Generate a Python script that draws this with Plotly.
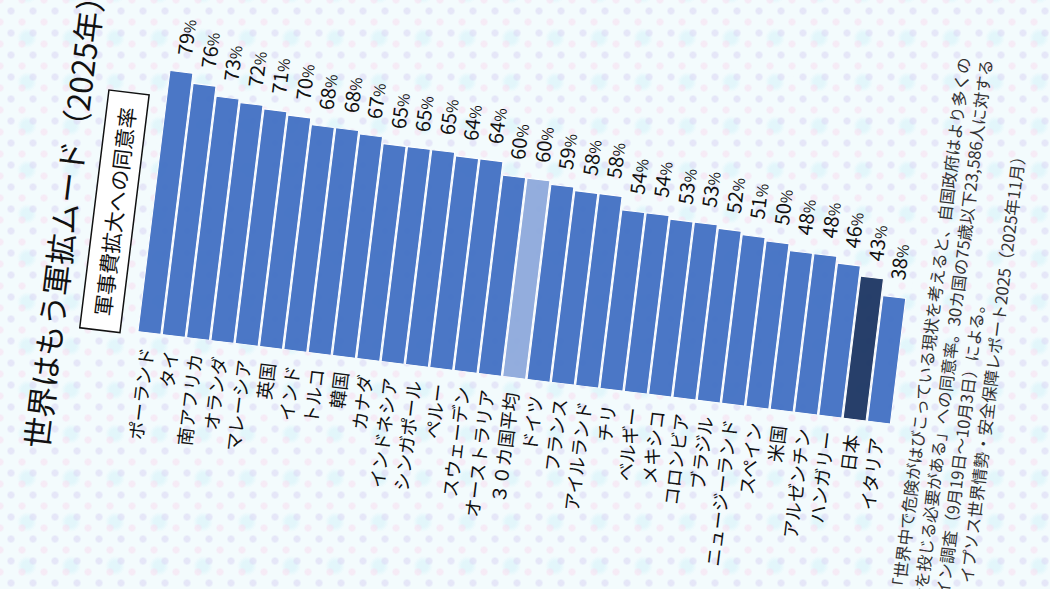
import plotly.graph_objects as go

# ---- data ----
countries = ["ポーランド", "タイ", "南アフリカ", "オランダ", "マレーシア", "英国", "インド",
             "トルコ", "韓国", "カナダ", "インドネシア", "シンガポール", "ペルー", "スウェーデン",
             "オーストラリア", "３０カ国平均", "ドイツ", "フランス", "アイルランド", "チリ",
             "ベルギー", "メキシコ", "コロンビア", "ブラジル", "ニュージーランド", "スペイン",
             "米国", "アルゼンチン", "ハンガリー", "日本", "イタリア"]
values = [79, 76, 73, 72, 71, 70, 68, 68, 67, 65, 65, 65, 64, 64, 60, 60, 59, 58, 58,
          54, 54, 53, 53, 52, 51, 50, 48, 48, 46, 43, 38]
value_labels = [f"{v}<span style='font-size:15px'>%</span>" for v in values]

title_text = "世界はもう軍拡ムード（2025年）"
subtitle_text = "軍事費拡大への同意率"
note_lines = [
    "注：「世界中で危険がはびこっている現状を考えると、自国政府はより多くの",
    "資金を投じる必要がある」への同意率。30カ国の75歳以下23,586人に対する",
    "オンライン調査（9月19日～10月3日）による。",
    "出典：イプソス世界情勢・安全保障レポート2025（2025年11月）",
]

# ---- styles ----
FONT = "Noto Sans CJK JP, Noto Sans, sans-serif"
C_MAIN = "#4472C4"
C_AVG = "#8FAADC"
C_JAPAN = "#1F3864"
colors = [C_AVG if c == "３０カ国平均" else (C_JAPAN if c == "日本" else C_MAIN) for c in countries]

L, T, R, B = 220, 140, 130, 130
PLOT_W = 333   # 0..100 %
PLOT_H = 768   # 31 bars
W = L + PLOT_W + R
H = T + PLOT_H + B

fig = go.Figure(go.Bar(
    x=values, y=countries, orientation="h",
    marker=dict(color=colors, line=dict(color="white", width=1)),
    opacity=0.96,
    hoverinfo="skip",
))

annotations = []
for c, v, lab in zip(countries, values, value_labels):
    annotations.append(dict(
        x=v, y=c, xref="x", yref="y", text=lab, showarrow=False,
        xanchor="left", yanchor="middle", xshift=15,
        font=dict(family=FONT, size=20, color="#111111"),
    ))

annotations.append(dict(
    x=0, y=1, xref="paper", yref="paper", text=title_text, showarrow=False,
    xanchor="left", yanchor="middle", xshift=-130, yshift=84,
    font=dict(family=FONT, size=31, color="#111111"),
))
annotations.append(dict(
    x=0, y=1, xref="paper", yref="paper", text=subtitle_text, showarrow=False,
    xanchor="left", yanchor="bottom", xshift=-4, yshift=12,
    width=234, height=35, align="center", valign="middle",
    bgcolor="white", bordercolor="#111111", borderwidth=1.5, borderpad=2,
    font=dict(family=FONT, size=21, color="#111111"),
))
note_x = [-195, -194, -216, -200]
note_v = [791, 813, 835, 857]
for line, ux, vv in zip(note_lines, note_x, note_v):
    annotations.append(dict(
        x=0, y=1, xref="paper", yref="paper", text=line, showarrow=False,
        xanchor="left", yanchor="middle", xshift=ux, yshift=-vv,
        font=dict(family=FONT, size=16.5, color="#333333"),
    ))

fig.update_layout(
    width=W, height=H, autosize=False,
    margin=dict(l=L, r=R, t=T, b=B, pad=0),
    paper_bgcolor="rgba(0,0,0,0)", plot_bgcolor="rgba(0,0,0,0)",
    bargap=0.06, showlegend=False,
    font=dict(family=FONT, color="#111111"),
    xaxis=dict(range=[0, 100], visible=False, fixedrange=True),
    yaxis=dict(type="category", autorange="reversed", ticks="", showline=False,
               showgrid=False, zeroline=False, ticklabelstandoff=14,
               tickfont=dict(family=FONT, size=18.5, color="#111111"), fixedrange=True),
    annotations=annotations,
)

post_js = """
var gd = document.getElementById('{plot_id}');
document.documentElement.style.overflow = 'hidden';
document.body.style.margin = '0';
document.body.style.overflow = 'hidden';
document.body.style.backgroundColor = '#f3fbfd';
document.body.style.backgroundImage =
  'radial-gradient(circle, rgba(218,214,244,0.55) 0px, rgba(218,214,244,0.55) 2.5px, rgba(218,214,244,0) 4.5px),' +
  'radial-gradient(circle, rgba(248,222,240,0.55) 0px, rgba(248,222,240,0.55) 2.5px, rgba(248,222,240,0) 4.5px),' +
  'radial-gradient(circle, rgba(215,243,249,0.6) 0px, rgba(215,243,249,0.6) 5px, rgba(215,243,249,0) 10px)';
document.body.style.backgroundSize = '22px 22px, 22px 22px, 44px 44px';
document.body.style.backgroundPosition = '0px 0px, 11px 11px, 5px 16px';
gd.style.position = 'absolute';
gd.style.left = '0px';
gd.style.top = '0px';
gd.style.transformOrigin = '220px 140px';
gd.style.transform = 'translate(-87px, 191px) rotate(-83deg)';
"""

fig.write_html("out.html", post_script=post_js, config={"displayModeBar": False, "staticPlot": True})
